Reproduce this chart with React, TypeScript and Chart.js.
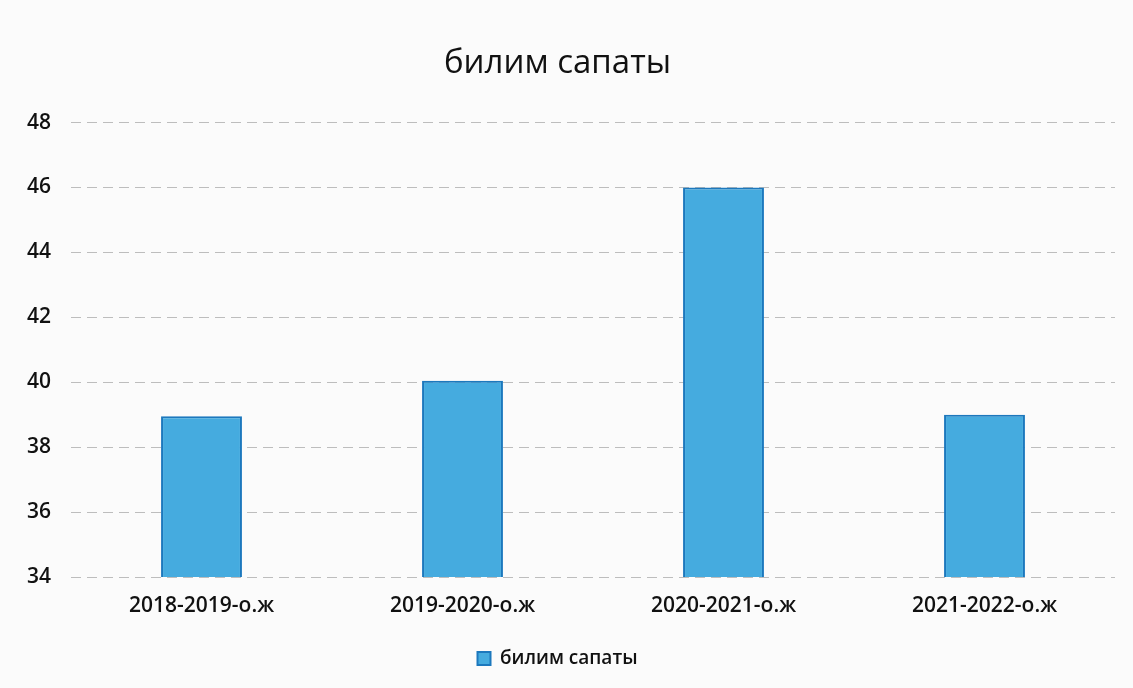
import React, { useEffect, useRef } from "react";
import { Chart, registerables } from "chart.js";

Chart.register(...registerables);

const categories = ["2018-2019-о.ж", "2019-2020-о.ж", "2020-2021-о.ж", "2021-2022-о.ж"];
const values = [38.95, 40.05, 46.0, 39.0];
const seriesName = "билим сапаты";
const titleText = "билим сапаты";
const yMin = 34;
const yMax = 48;
const yStep = 2;

const FONT = "'Open Sans', 'Noto Sans', sans-serif";

export default function App() {
  const ref = useRef<HTMLCanvasElement | null>(null);

  useEffect(() => {
    document.body.style.margin = "0";
    const ctx = ref.current;
    if (!ctx) return;
    const chart = new Chart(ctx, {
      type: "bar",
      data: {
        labels: categories,
        datasets: [
          {
            label: seriesName,
            data: values,
            backgroundColor: "#45abdf",
            borderColor: "#1c78bd",
            borderWidth: 2,
            categoryPercentage: 1,
            barPercentage: 0.31,
          },
        ],
      },
      options: {
        animation: false,
        responsive: false,
        layout: { padding: { left: 0, right: 18, top: 0, bottom: 10 } },
        plugins: {
          title: {
            display: true,
            text: titleText,
            color: "#111",
            font: { family: FONT, size: 33, weight: "normal" },
            padding: { top: 44, bottom: 39 },
          },
          legend: {
            display: true,
            position: "bottom",
            labels: {
              color: "#111",
              font: { family: FONT, size: 19, weight: 600 },
              boxWidth: 13,
              boxHeight: 13,
              padding: 10,
            },
          },
          tooltip: { enabled: false },
        },
        scales: {
          x: {
            grid: { display: false, drawTicks: false },
            border: { display: false },
            ticks: {
              color: "#111",
              font: { family: FONT, size: 21, weight: 600 },
              padding: 16,
              maxRotation: 0,
            },
            afterFit: (scale: any) => {
              scale.height = 62;
            },
          },
          y: {
            min: yMin,
            max: yMax,
            grid: {
              color: "#bdbdbd",
              lineWidth: 1,
              drawTicks: false,
            },
            border: { display: false, dash: [10, 6] },
            ticks: {
              stepSize: yStep,
              color: "#111",
              font: { family: FONT, size: 21, weight: 600 },
              padding: 20,
            },
            afterFit: (scale: any) => {
              scale.width = 71;
            },
          },
        },
      },
    });
    return () => chart.destroy();
  }, []);

  return (
    <div style={{ position: "absolute", left: 0, top: 0, width: 1133, height: 688, background: "#fbfbfb" }}>
      <canvas ref={ref} width={1133} height={688} style={{ width: 1133, height: 688 }} />
    </div>
  );
}
